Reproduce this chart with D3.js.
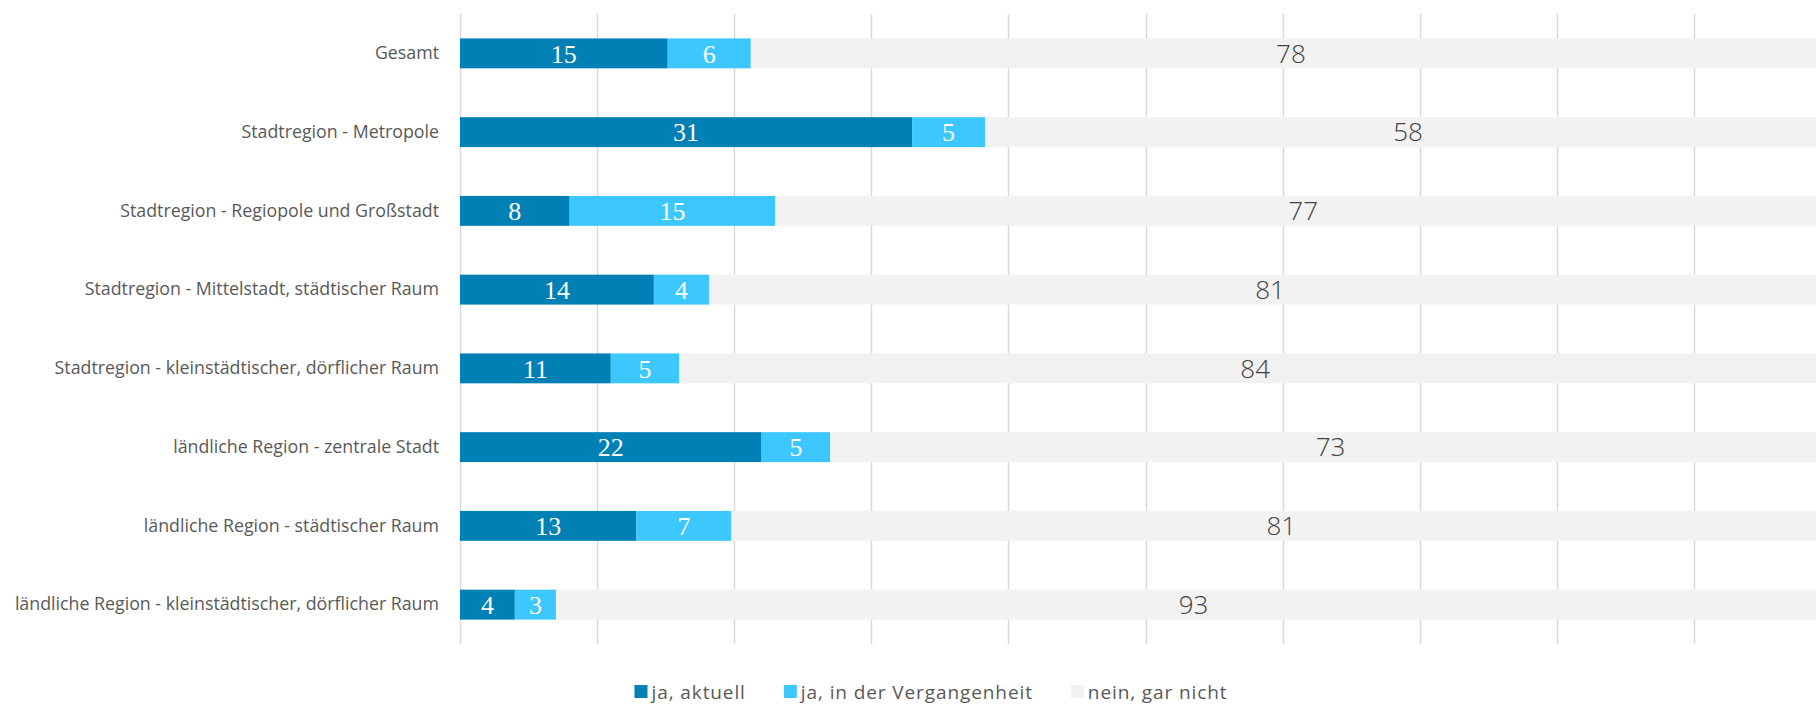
<!DOCTYPE html>
<html>
<head>
<meta charset="utf-8">
<script src="https://cdn.jsdelivr.net/npm/d3@7"></script>
<style>
	body { margin: 0; background: #ffffff; }
	svg { display: block; }
	.cat-label { font-family: "Liberation Sans Narrow", "Open Sans", sans-serif; font-size: 17.8px; fill: #595959; }
	.val-label { font-size: 26px; }
	.legend-label { font-family: "Liberation Sans Narrow", "Open Sans", sans-serif; font-size: 19px; fill: #595959; letter-spacing: 0.9px; }
</style>
</head>
<body>
<div id="chart"></div>
<script>
// ********** STACKED BAR CHART (100%) **********

const width = 1816;
const height = 704;

// Categories (top to bottom)
const categories = [
	'Gesamt',
	'Stadtregion - Metropole',
	'Stadtregion - Regiopole und Großstadt',
	'Stadtregion - Mittelstadt, städtischer Raum',
	'Stadtregion - kleinstädtischer, dörflicher Raum',
	'ländliche Region - zentrale Stadt',
	'ländliche Region - städtischer Raum',
	'ländliche Region - kleinstädtischer, dörflicher Raum'
];

// Series values (as labelled in the chart)
const jaAktuell = [15, 31, 8, 14, 11, 22, 13, 4];
const jaVergangenheit = [6, 5, 15, 4, 5, 5, 7, 3];
const neinGarNicht = [78, 58, 77, 81, 84, 73, 81, 93];

// Series names and colours
const seriesNames = ['ja, aktuell', 'ja, in der Vergangenheit', 'nein, gar nicht'];
const seriesKeys = ['aktuell', 'vergangen', 'nein'];
const seriesColors = ['#0080b4', '#3cc8ff', '#f2f2f2'];

// Axis ticks in percent
const xTicks = [0, 10, 20, 30, 40, 50, 60, 70, 80, 90, 100];

// Plot area
const margin = { left: 460, top: 14, bottom: 60 };
const plotRight = 1831; // 100% lies just beyond the visible picture

// Build table: each row normalised to 100% (stacked 100% bar chart)
const table = categories.map((cat, i) => ({
	cat: cat,
	aktuell: jaAktuell[i],
	vergangen: jaVergangenheit[i],
	nein: neinGarNicht[i]
}));

const stack = d3.stack()
	.keys(seriesKeys)
	.offset(d3.stackOffsetExpand);
const stacked = stack(table);

const svg = d3.select('#chart')
	.append('svg')
	.attr('width', width)
	.attr('height', height);

// Scales
const xScale = d3.scaleLinear()
	.domain([0, 1])
	.range([margin.left, plotRight]);

const yScale = d3.scaleBand()
	.domain(categories)
	.range([margin.top, height - margin.bottom])
	.paddingInner(0.62)
	.paddingOuter(0.31);

// Gridlines
svg.append('g')
	.attr('class', 'grid')
	.selectAll('line')
	.data(xTicks)
	.join('line')
	.attr('x1', d => Math.round(xScale(d / 100)) + 0.5)
	.attr('x2', d => Math.round(xScale(d / 100)) + 0.5)
	.attr('y1', margin.top)
	.attr('y2', height - margin.bottom)
	.attr('stroke', '#d9d9d9')
	.attr('stroke-width', 1.5);

// Bars
const layers = svg.append('g')
	.attr('class', 'bars')
	.selectAll('g')
	.data(stacked)
	.join('g')
	.attr('fill', (d, i) => seriesColors[i]);

layers.selectAll('rect')
	.data(d => d)
	.join('rect')
	.attr('x', d => xScale(d[0]))
	.attr('y', d => yScale(d.data.cat))
	.attr('width', d => xScale(d[1]) - xScale(d[0]))
	.attr('height', yScale.bandwidth());

// Value labels
stacked.forEach((layer, li) => {
	svg.append('g')
		.attr('class', 'values')
		.selectAll('text')
		.data(layer)
		.join('text')
		.attr('class', 'val-label')
		.attr('x', d => (xScale(d[0]) + xScale(d[1])) / 2)
		.attr('y', d => yScale(d.data.cat) + yScale.bandwidth() / 2)
		.attr('dy', '0.36em')
		.attr('text-anchor', 'middle')
		.style('font-family', li < 2 ? '"Liberation Serif", serif' : '"Open Sans", sans-serif')
		.style('font-weight', li < 2 ? 400 : 300)
		.attr('fill', li < 2 ? '#ffffff' : '#404040')
		.text(d => d.data[layer.key]);
});

// Category labels
const yAxis = d3.axisLeft(yScale).tickSize(0).tickPadding(21);
svg.append('g')
	.attr('class', 'y axis')
	.attr('transform', `translate(${margin.left}, 0)`)
	.call(yAxis)
	.call(g => g.select('.domain').remove())
	.call(g => g.selectAll('text')
		.attr('class', 'cat-label')
		.attr('fill', null)
		.attr('font-size', null)
		.attr('font-family', null));

// Legend
const legend = svg.append('g').attr('class', 'legend');
const legendY = 692;
let lx = 0;
seriesNames.forEach((name, i) => {
	const item = legend.append('g').attr('transform', `translate(${lx}, 0)`);
	item.append('rect')
		.attr('x', 0)
		.attr('y', legendY - 7)
		.attr('width', 13)
		.attr('height', 13)
		.attr('fill', seriesColors[i]);
	const t = item.append('text')
		.attr('class', 'legend-label')
		.attr('x', 17)
		.attr('y', legendY)
		.attr('dy', '0.35em')
		.text(name);
	lx += 17 + t.node().getComputedTextLength() + 38;
});
const legendWidth = lx - 38;
legend.attr('transform', `translate(${931 - legendWidth / 2}, 0)`);
</script>
</body>
</html>
